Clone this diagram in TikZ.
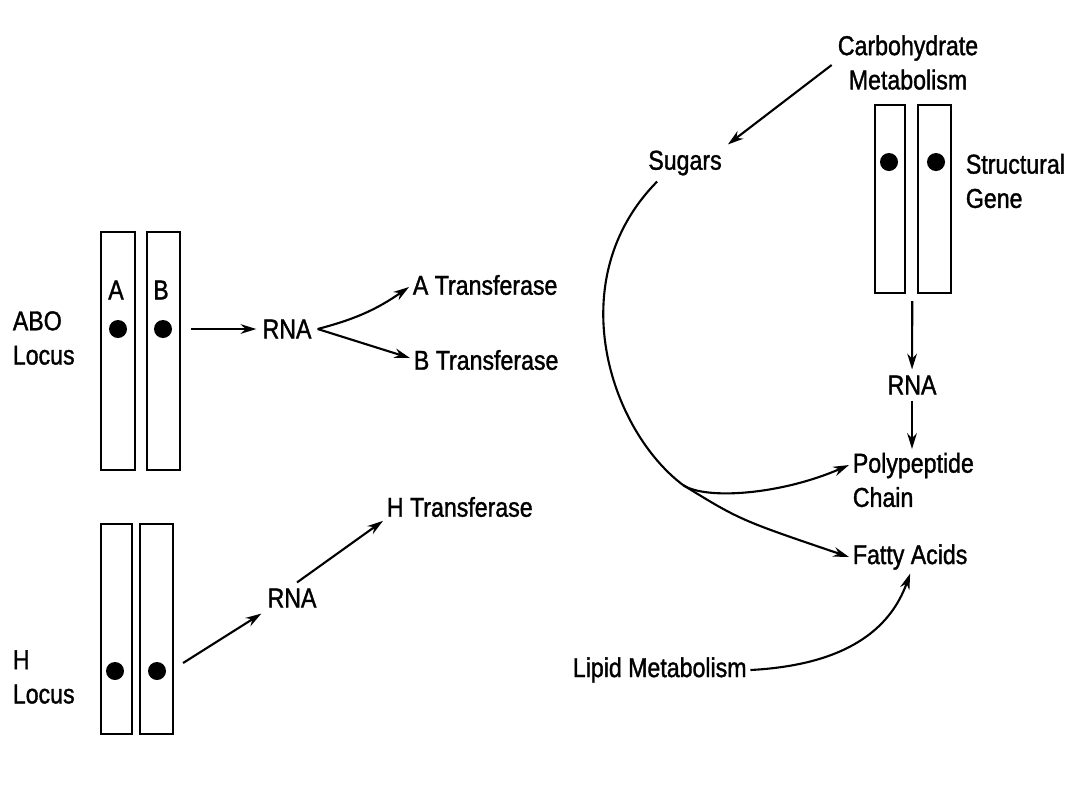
\documentclass[tikz,border=0pt]{standalone}
\usepackage{fontspec}
\setmainfont{Liberation Sans}[FakeStretch=0.85,FakeBold=1.3]
\usetikzlibrary{arrows.meta,positioning,calc}

\begin{document}
\begin{tikzpicture}[
    every node/.style={font=\fontsize{15.5}{19.5}\selectfont},
    chrom/.style={draw,line width=1.2pt,inner sep=0pt},
    allele/.style={fill,circle,minimum size=0.36cm,inner sep=0pt},
    arr/.style={line width=1.2pt,-{Stealth[length=9pt,width=5.5pt]}},
    lbl/.style={align=left,anchor=west,inner sep=2pt}]
    \useasboundingbox (0,0) rectangle (21.72,-15.72);
    % ABO locus
    \node[chrom,minimum width=0.68cm,minimum height=4.76cm] (abo1) at (2.36,-7.02) {};
    \node[chrom,minimum width=0.66cm,minimum height=4.76cm] (abo2) at (3.27,-7.02) {};
    \node at (2.32,-5.8) {A};
    \node at (3.22,-5.8) {B};
    \node[allele] (dota) at (2.36,-6.58) {};
    \node[allele] (dotb) at (3.26,-6.58) {};
    \node[lbl] (abo) at (0.18,-6.76) {ABO\\Locus};
    \node (rna1) at (5.74,-6.58) {RNA};
    \node[lbl] (atr) at (8.18,-5.7) {A Transferase};
    \node[lbl] (btr) at (8.2,-7.2) {B Transferase};
    \draw[arr] ([xshift=0.2cm]abo2.east |- dotb) -- (rna1);
    \draw[arr] (rna1.east) to[bend right=10] ([yshift=-0.04cm]atr.west);
    \draw[arr] (rna1.east) -- ([yshift=0.04cm]btr.west);
    % H locus
    \node[chrom,minimum width=0.62cm,minimum height=4.2cm] (h1) at (2.33,-12.58) {};
    \node[chrom,minimum width=0.66cm,minimum height=4.2cm] (h2) at (3.13,-12.58) {};
    \node[allele] (hdot1) at (2.30,-13.42) {};
    \node[allele] (hdot2) at (3.14,-13.42) {};
    \node[lbl] (hloc) at (0.18,-13.54) {H\\Locus};
    \node (rna2) at (5.84,-11.96) {RNA};
    \node[lbl] (htr) at (7.66,-10.14) {H Transferase};
    \draw[arr] ([xshift=0.18cm,yshift=0.16cm]h2.east |- hdot2) -- (rna2.south west);
    \draw[arr] ([xshift=0.1cm]rna2.north) -- (htr.south west);
    % structural gene and metabolism
    \node[align=center] (carb) at (18.16,-1.25) {Carbohydrate\\Metabolism};
    \node (sugars) at (13.7,-3.26) {Sugars};
    \node[chrom,minimum width=0.6cm,minimum height=3.76cm] (sg1) at (17.8,-3.98) {};
    \node[chrom,minimum width=0.66cm,minimum height=3.76cm] (sg2) at (18.69,-3.98) {};
    \node[allele] (sdot1) at (17.78,-3.24) {};
    \node[allele] (sdot2) at (18.72,-3.24) {};
    \node[lbl] (struct) at (19.24,-3.62) {Structural\\Gene};
    \coordinate (sg) at ($(sg1.south)!0.5!(sg2.south)+(0,-0.14)$);
    \node (rna3) at (18.24,-7.7) {RNA};
    \node[lbl] (poly) at (16.98,-9.6) {Polypeptide\\Chain};
    \node[lbl] (fatty) at (16.98,-11.14) {Fatty Acids};
    \node[lbl] (lipid) at (11.38,-13.4) {Lipid Metabolism};
    \coordinate (split) at (13.66,-9.7);
    \draw[arr] ([yshift=-0.05cm]carb.west) -- (sugars.north east);
    \draw[arr] (sg) -- (rna3);
    \draw[arr] (rna3) -- (rna3 |- poly.north);
    \draw[line width=1.2pt] ([xshift=0.3cm]sugars.south west) .. controls (11.2,-5.6) and (12.2,-8.6) .. (split);
    \draw[arr] (split) .. controls (14.1,-10.0) and (15.6,-9.9) .. ([yshift=0.3cm]poly.west);
    \draw[arr] (split) .. controls (14.8,-10.4) .. (fatty.west);
    \draw[arr] (lipid.east) .. controls (16.9,-13.3) and (17.8,-12.6) .. (fatty.south);
\end{tikzpicture}
\end{document}
